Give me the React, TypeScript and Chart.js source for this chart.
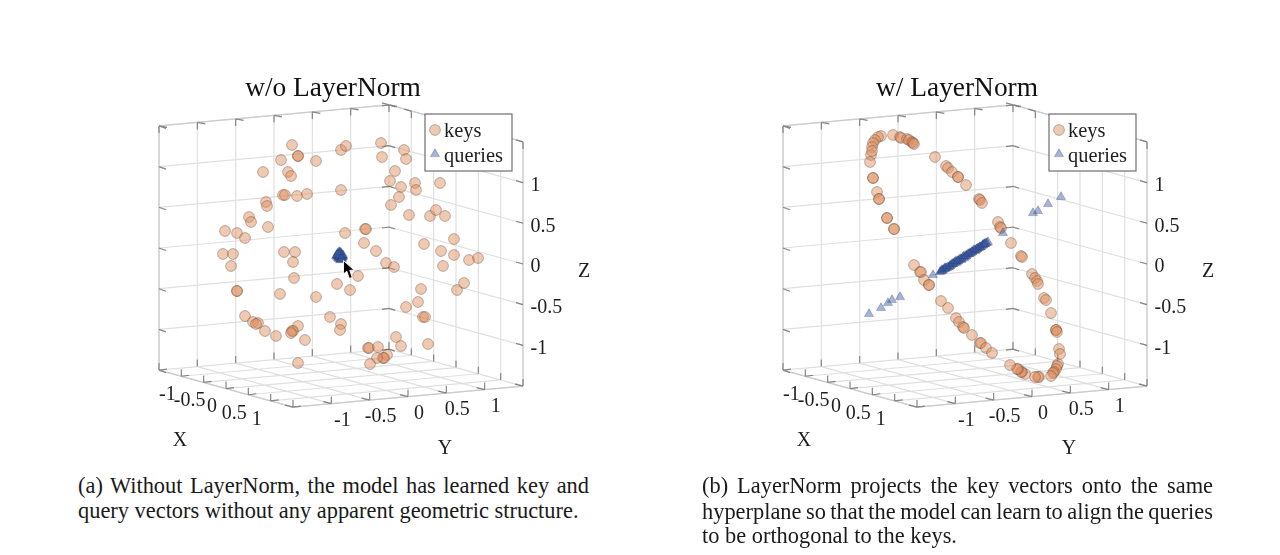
import React, { useEffect, useRef } from "react";
import { Chart, registerables } from "chart.js";
import { drawPoint } from "chart.js/helpers";

Chart.register(...registerables);

// ---- panel (a): projected positions ----
const keysAX = [292,298,298,316,281,263,288,291,341,346,381,382,404,406,395,390,401,415,416,440,399,391,409,430,436,445,283,285,297,307,341,266,267,249,251,268,225,237,245,345,365,366,364,376,223,233,284,295,293,231,386,394,358,424,454,441,454,469,478,443,464,457,421,350,337,294,237,237,280,316,418,406,423,425,245,253,258,256,265,276,298,292,293,291,305,330,341,340,298,368,369,378,396,401,428,387,383,384,377,370];
const keysAY = [145,156,156,161,160,172,172,176,150,146,143,157,150,159,171,181,187,183,190,183,197,205,215,216,210,216,195,195,196,194,190,202,206,217,222,227,231,233,238,233,229,229,243,251,254,254,252,252,262,266,263,267,276,244,239,251,255,260,258,266,283,290,289,290,284,278,291,291,294,297,302,307,317,317,316,322,323,324,331,336,326,331,331,333,340,317,324,330,363,348,348,347,337,346,344,355,358,358,358,364];
const queriesAX = [338,340,342,339,341,337,343,340,338,342,340,336,341,339,338,340,342,339,341,337,343,340,339,341,340,338,342,340,339,341,340,339,341,338,342,340,337,343,339,341];
const queriesAY = [255,253,255,258,258,257,257,256,253,259,260,256,254,256,256,254,256,257,259,255,256,255,254,256,257,258,257,252,259,253,255,256,257,254,258,256,255,255,252,260];
const cursorAX = [349];
const cursorAY = [270];

// ---- panel (b) ----
const keysBX = [881,878,875,873,872,871,870,872,893,900,901,907,909,912,913,914,873,873,877,879,879,887,887,894,894,935,946,948,952,958,958,966,979,980,982,998,1000,1001,1011,1021,1022,1032,1035,1037,1038,914,920,921,924,929,929,941,948,956,959,963,964,972,980,981,986,992,1044,1046,1051,1056,1056,1057,1059,1060,1058,1057,1056,1054,1053,1051,1039,1038,1035,1025,1022,1021,1018,1017,1010];
const keysBY = [136,137,140,143,147,155,162,151,135,137,138,139,140,142,143,144,178,178,192,199,199,218,218,229,229,157,166,168,172,177,177,185,199,200,203,222,227,228,243,256,257,274,278,281,284,265,272,272,280,285,285,301,308,318,322,327,328,335,343,343,348,353,298,300,313,330,330,332,349,354,364,366,369,372,373,376,377,377,377,374,372,372,369,369,365];
const queriesBX = [940,942,944,946,949,951,953,955,957,959,961,963,965,967,969,971,973,975,977,979,981,983,985,987,988,941,943,945,948,950,952,954,956,958,960,962,964,966,968,970,972,974,976,978,980,982,984,986,942,945,947,950,953,956,958,961,964,966,969,972,975,977,980,983,985,933,1003,1061,1048,1038,1033,869,881,888,892,900];
const queriesBY = [272,270,269,268,267,265,264,262,262,260,259,257,257,255,254,253,251,251,249,248,247,245,244,243,242,271,270,268,267,266,264,263,261,261,259,259,256,256,254,253,252,250,250,248,247,246,244,243,271,269,268,266,264,263,261,260,258,256,254,252,250,249,247,245,244,275,233,197,204,211,213,314,308,303,300,297];

// ---- axes ----
const gridTicks = [-1.5,-1,-0.5,0,0.5,1,1.5];
const xTickLabels = ["-1","-0.5","0","0.5","1"];
const yTickLabels = ["-1","-0.5","0","0.5","1"];
const zTickLabels = ["-1","-0.5","0","0.5","1"];
const tickValues = [-1,-0.5,0,0.5,1];
const seriesNames = ["keys","queries"];
const captionA = ["(a) Without LayerNorm, the model has learned key and","query vectors without any apparent geometric structure."];
const captionB = ["(b) LayerNorm projects the key vectors onto the same","hyperplane so that the model can learn to align the queries","to be orthogonal to the keys."];

const SERIF = "'Liberation Serif', 'Times New Roman', serif";
const TEXT = "#1e1e1e";
const PANEL_W = 666, PANEL_H = 470, TITLE_BLOCK = 103, PANEL_B_X = 624;
const pts = (xs: number[], ys: number[]) => xs.map((x, i) => ({ x, y: ys[i] }));

type Pt = { x: number; y: number } | { x: number; y: null };

function makeProjection(off: number) {
  return (x: number, y: number, z: number) => ({
    x: 341 + off + x * 44.67 + y * 76.67,
    y: 256 + x * 12.33 - y * 7 - z * 81.4,
  });
}

function buildAxes(off: number) {
  const P = makeProjection(off);
  const lo = -1.5, hi = 1.5;
  const grid: any[] = [], edge: any[] = [], stub: any[] = [];
  const seg = (arr: any[], a: any, b: any) => { arr.push(a, b, { x: a.x, y: null }); };
  const s = (p: any, dx: number, dy: number) => seg(stub, p, { x: p.x + dx, y: p.y + dy });
  for (const t of gridTicks) {
    seg(grid, P(lo, t, lo), P(lo, t, hi));
    seg(grid, P(lo, lo, t), P(lo, hi, t));
    seg(grid, P(t, hi, lo), P(t, hi, hi));
    seg(grid, P(lo, hi, t), P(hi, hi, t));
    seg(grid, P(t, lo, lo), P(t, hi, lo));
    seg(grid, P(lo, t, lo), P(hi, t, lo));
    // tick marks along the walls
    s(P(lo, t, hi), 0, 7); s(P(lo, t, hi), 8, 1.5);
    s(P(t, hi, hi), 0, 7); s(P(t, hi, hi), -7, -2);
    s(P(lo, lo, t), 7, 2.5);
    s(P(hi, hi, t), -7, -2);
    s(P(lo, hi, t), -7, 1); s(P(lo, hi, t), 6, 2);
    // tick marks along the floor
    s(P(t, lo, lo), 0, -7); s(P(t, lo, lo), 8, -1);
    s(P(hi, t, lo), 0, -7); s(P(hi, t, lo), -8, -2);
    s(P(lo, t, lo), 0, -7);
    s(P(t, hi, lo), 0, -7);
  }
  seg(edge, P(lo, lo, hi), P(lo, hi, hi));
  seg(edge, P(lo, hi, hi), P(hi, hi, hi));
  seg(edge, P(lo, lo, lo), P(hi, lo, lo));
  seg(edge, P(hi, lo, lo), P(hi, hi, lo));
  seg(edge, P(lo, lo, lo), P(lo, lo, hi));
  seg(edge, P(hi, hi, lo), P(hi, hi, hi));
  return { grid, edge, stub };
}

function makeCursorGlyph() {
  const c = document.createElement("canvas");
  c.width = 14; c.height = 22;
  const g = c.getContext("2d")!;
  g.beginPath();
  g.moveTo(1.5, 1.5); g.lineTo(1.5, 15); g.lineTo(4.8, 12.2); g.lineTo(7.4, 19.5);
  g.lineTo(10.2, 18.4); g.lineTo(7.8, 11.4); g.lineTo(12, 11); g.closePath();
  g.fillStyle = "#000"; g.fill();
  g.strokeStyle = "rgba(255,255,255,0.9)"; g.lineWidth = 1; g.stroke();
  return c;
}

const textPlugin = (off: number) => ({
  id: "axisText",
  afterDraw(chart: any) {
    const { ctx, scales } = chart;
    const P = makeProjection(off);
    const put = (text: string, x: number, y: number, size: number, align: CanvasTextAlign) => {
      ctx.font = `${size}px ${SERIF}`;
      ctx.fillStyle = TEXT;
      ctx.textAlign = align;
      ctx.textBaseline = "middle";
      ctx.fillText(text, scales.x.getPixelForValue(x), scales.y.getPixelForValue(y));
    };
    ctx.save();
    tickValues.forEach((v, i) => {
      const px = P(v, -1.5, -1.5);
      put(xTickLabels[i], px.x - 14, px.y + 18.5, 20, "center");
      const py = P(1.5, v, -1.5);
      put(yTickLabels[i], py.x + 11, py.y + 17, 20, "center");
      const pz = P(1.5, 1.5, v);
      put(zTickLabels[i], pz.x + 7.5, pz.y + 3, 20, "left");
    });
    put("X", 180 + off, 441, 20, "center");
    put("Y", 445 + off, 449, 20, "center");
    put("Z", 584 + off, 272, 20, "center");

    // legend box
    const left = scales.x.getPixelForValue(425 + off);
    const top = scales.y.getPixelForValue(114);
    ctx.fillStyle = "#fff";
    ctx.strokeStyle = "#6e6e6e";
    ctx.lineWidth = 1.2;
    ctx.fillRect(left, top, 87, 57);
    ctx.strokeRect(left, top, 87, 57);
    const ds = chart.data.datasets;
    seriesNames.forEach((name, i) => {
      const d = ds.find((e: any) => e.label === name);
      const rowY = top + (i === 0 ? 16 : 40);
      ctx.fillStyle = d.backgroundColor;
      ctx.strokeStyle = d.borderColor;
      ctx.lineWidth = 1;
      drawPoint(ctx, { pointStyle: d.pointStyle, radius: d.pointRadius, rotation: 0, borderWidth: 1 } as any, left + 10, rowY);
      ctx.font = `20.4px ${SERIF}`;
      ctx.fillStyle = TEXT;
      ctx.textAlign = "left";
      ctx.textBaseline = "middle";
      ctx.fillText(name, left + 19, rowY + (i === 0 ? 1.5 : 2.5));
    });
    ctx.restore();
  },
});

function Panel({ title, off, keys, queries, cursor }: any) {
  const ref = useRef<HTMLCanvasElement>(null);
  useEffect(() => {
    const axes = buildAxes(off);
    const lineDs = (label: string, data: Pt[], color: string, width: number, order: number) => ({
      type: "line", label, data, borderColor: color, borderWidth: width, pointRadius: 0, spanGaps: false, order, clip: false, tension: 0,
    });
    const datasets: any[] = [
      { type: "scatter", label: seriesNames[0], data: keys, pointStyle: "circle", pointRadius: 5.4, backgroundColor: "rgba(223,140,92,0.47)", borderColor: "rgba(80,55,40,0.36)", borderWidth: 1, order: 3, clip: false },
      { type: "scatter", label: seriesNames[1], data: queries, pointStyle: "triangle", pointRadius: 5.2, backgroundColor: "rgba(62,92,165,0.46)", borderColor: "rgba(30,50,100,0.28)", borderWidth: 1, order: 2, clip: false },
      lineDs("grid", axes.grid, "#e0e0e0", 1.2, 6),
      lineDs("edges", axes.edge, "#cbcbcb", 1.2, 5),
      lineDs("ticks", axes.stub, "#858585", 1.2, 4),
    ];
    if (cursor) {
      datasets.push({ type: "scatter", label: "cursor", data: cursor, pointStyle: makeCursorGlyph(), pointRadius: 7, backgroundColor: "#000", borderColor: "#000", borderWidth: 0, order: 1, clip: false });
    }
    const chart = new Chart(ref.current!, {
      data: { datasets },
      options: {
        responsive: false,
        animation: false,
        events: [],
        layout: { padding: 0, autoPadding: false },
        scales: {
          x: { type: "linear", display: false, min: off, max: off + PANEL_W },
          y: { type: "linear", display: false, reverse: true, min: TITLE_BLOCK, max: PANEL_H },
        },
        plugins: {
          legend: { display: false },
          tooltip: { enabled: false },
          title: {
            display: true,
            text: title,
            color: "#111",
            font: { family: SERIF, size: 27.4, weight: "normal", lineHeight: 1 },
            padding: { top: 75.6, bottom: 0 },
          },
        },
      } as any,
      plugins: [textPlugin(off)],
    } as any);
    return () => chart.destroy();
  }, []);
  return (
    <canvas
      ref={ref}
      width={PANEL_W}
      height={PANEL_H}
      style={{ position: "absolute", left: off, top: 0, width: PANEL_W, height: PANEL_H }}
    />
  );
}

function Caption({ lines, left, tops, justified, spacing }: any) {
  return lines.map((line: string, i: number) => (
    <div
      key={i}
      style={{
        position: "absolute",
        left,
        top: tops[i] - 12,
        width: 511,
        height: 26,
        lineHeight: "26px",
        fontFamily: SERIF,
        fontSize: 22.4,
        wordSpacing: spacing[i],
        color: "#1a1a1a",
        whiteSpace: "nowrap",
        textAlign: "justify",
        textAlignLast: justified[i] ? "justify" : "left",
      }}
    >
      {line}
    </div>
  ));
}

export default function App() {
  return (
    <div style={{ position: "fixed", left: 0, top: 0, width: 1280, height: 555, overflow: "hidden", background: "#fff", filter: "blur(0.55px)" }}>
      <Panel title="w/o LayerNorm" off={0} keys={pts(keysAX, keysAY)} queries={pts(queriesAX, queriesAY)} cursor={pts(cursorAX, cursorAY)} />
      <Panel title="w/ LayerNorm" off={PANEL_B_X} keys={pts(keysBX, keysBY)} queries={pts(queriesBX, queriesBY)} />
      <Caption lines={captionA} left={78} tops={[485, 510]} justified={[true, false]} spacing={[-1, 0]} />
      <Caption lines={captionB} left={702} tops={[485, 511, 535]} justified={[true, true, false]} spacing={[-1, -1.5, 0]} />
    </div>
  );
}
